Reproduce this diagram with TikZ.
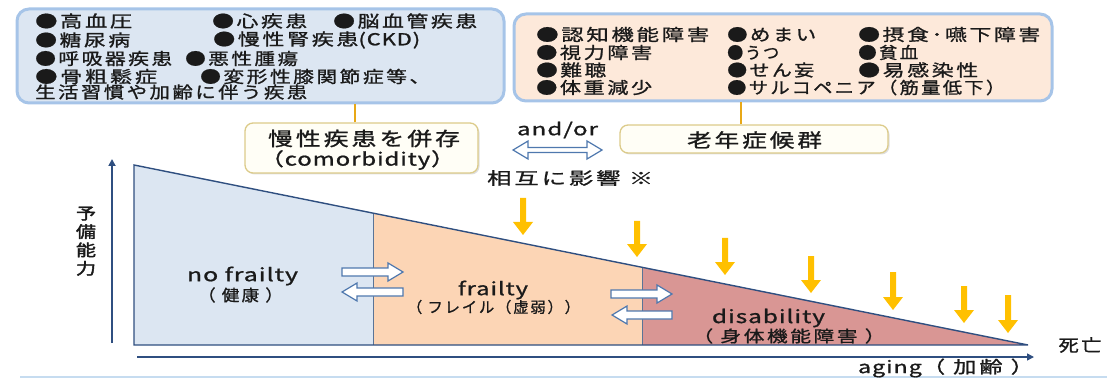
\documentclass[tikz,border=0pt]{standalone}
\usepackage{fontspec}
\usepackage{graphicx}
\usetikzlibrary{arrows.meta,shadows}
\setmainfont{Noto Sans CJK JP}
\newfontfamily\jp{Noto Sans CJK JP}[LetterSpace=12, FakeBold=1]
\newfontfamily\jpl{Noto Sans CJK JP}[LetterSpace=4, FakeBold=1]
\newfontfamily\jpbold{Noto Sans CJK JP}[FakeBold=2]
\newcommand{\fit}[2]{\resizebox{#1pt}{\height}{#2}}
\definecolor{glow}{HTML}{A6C4E8}
\definecolor{lfill}{HTML}{DCE6F2}
\definecolor{rfill}{HTML}{FDE9DA}
\definecolor{cream}{HTML}{FFFEF6}
\definecolor{tan}{HTML}{DCCB8A}
\definecolor{gold}{HTML}{E8A817}
\definecolor{yel}{HTML}{FFC000}
\definecolor{nofr}{HTML}{DCE6F2}
\definecolor{frc}{HTML}{FCD5B5}
\definecolor{disc}{HTML}{D99694}
\definecolor{navy}{HTML}{2F4F80}
\definecolor{edge}{HTML}{5A7497}
\definecolor{harr}{HTML}{4F78AE}
\definecolor{baseln}{HTML}{C6DCF0}
\definecolor{ink}{HTML}{1A1A1A}
\newcommand{\yarr}[3]{\fill[yel] ({#1-3},#2) -- ({#1+3},#2) -- ({#1+3},{#3-13}) -- ({#1+10},{#3-13}) -- (#1,#3) -- ({#1-10},{#3-13}) -- ({#1-3},{#3-13}) -- cycle;}
\newcommand{\harrR}[3]{\draw[hollowarr] (#1,{#3-4}) -- ({#2-15},{#3-4}) -- ({#2-15},{#3-9}) -- (#2,#3) -- ({#2-15},{#3+9}) -- ({#2-15},{#3+4}) -- (#1,{#3+4}) -- cycle;}
\newcommand{\harrL}[3]{\draw[hollowarr] (#1,{#3-4}) -- ({#2+15},{#3-4}) -- ({#2+15},{#3-9}) -- (#2,#3) -- ({#2+15},{#3+9}) -- ({#2+15},{#3+4}) -- (#1,{#3+4}) -- cycle;}
\begin{document}
\begin{tikzpicture}[x=1pt,y=-1pt,
  bigbox/.style={rounded corners=12pt, line width=3pt, draw=glow, inner sep=0pt},
  smallbox/.style={rounded corners=8pt, line width=1.3pt, draw=tan, fill=cream, inner sep=0pt,
     drop shadow={shadow xshift=1.5pt, shadow yshift=-1.5pt, opacity=0.25}},
  item/.style={anchor=west, inner sep=0pt, text=ink, font=\jp\fontsize{16.5}{18}\selectfont},
  lab/.style={inner sep=0pt, text=ink, font=\jp\fontsize{#1}{#1}\selectfont},
  lab/.default=17,
  latin/.style={inner sep=0pt, text=ink, font=\jpl\fontsize{#1}{#1}\selectfont},
  conn/.style={draw=gold, line width=2.5pt},
  hollowarr/.style={draw=harr, fill=white, line width=1.2pt, line join=miter},
  outline/.style={draw=navy, line width=1.4pt, line join=miter},
  divider/.style={draw=edge, line width=1pt},
  axis/.style={draw=navy, line width=1.8pt, -{Triangle[length=7pt,width=7pt]}}
]
\useasboundingbox (0,0) rectangle (1107,379);
% baseline
\draw[baseln, line width=2pt] (20,377) -- (1107,377);

% top boxes
\node[bigbox, fill=lfill, minimum width=487pt, minimum height=94pt] (boxL) at (260.5,56) {};
\node[bigbox, fill=rfill, minimum width=538pt, minimum height=87pt] (boxR) at (783,57.5) {};

% left box items
\node[item] (l1a) at (35,21) {\fit{97}{●高血圧}};
\node[item] (l1b) at (212,21) {\fit{95}{●心疾患}};
\node[item] (l1c) at (333,21) {\fit{144}{●脳血管疾患}};
\node[item] (l2a) at (35,40) {\fit{95}{●糖尿病}};
\node[item] (l2b) at (213,40) {\fit{207}{●慢性腎疾患\jpl(CKD)}};
\node[item] (l3a) at (35,58.5) {\fit{137}{●呼吸器疾患}};
\node[item] (l3b) at (185,58.5) {\fit{113}{●悪性腫瘍}};
\node[item] (l4a) at (35,76.5) {\fit{122}{●骨粗鬆症}};
\node[item] (l4b) at (200,76.5) {\fit{230}{●変形性膝関節症等、}};
\node[item] (l5) at (35,92) {\fit{272}{生活習慣や加齢に伴う疾患}};

% right box items
\node[item] (r1a) at (536,34.5) {\fit{173}{●認知機能障害}};
\node[item] (r1b) at (727,34.5) {\fit{89}{●めまい}};
\node[item] (r1c) at (858,34.5) {\fit{182}{●摂食･嚥下障害}};
\node[item] (r2a) at (536,52.5) {\fit{116}{●視力障害}};
\node[item] (r2b) at (727,52.5) {\fit{52}{●うつ}};
\node[item] (r2c) at (858,52.5) {\fit{60}{●貧血}};
\node[item] (r3a) at (536,70) {\fit{70}{●難聴}};
\node[item] (r3b) at (727,70) {\fit{87}{●せん妄}};
\node[item] (r3c) at (858,70) {\fit{120}{●易感染性}};
\node[item] (r4a) at (536,87.5) {\fit{116}{●体重減少}};
\node[item] (r4b) at (727,87.5) {\fit{278}{●サルコペニア（筋量低下）}};

% small boxes
\node[smallbox, minimum width=233pt, minimum height=50pt] (como) at (361.5,148) {};
\node[lab=19] (comoJ) at (364,138.5) {\fit{192}{慢性疾患を併存}};
\node[latin=18] (comoE) at (357.5,160) {\fit{195}{（comorbidity）}};
\node[smallbox, minimum width=268pt, minimum height=28pt] (rounen) at (754,139) {};
\node[lab=19] (rounenT) at (754.5,140) {\fit{135}{老年症候群}};

% connectors
\draw[conn] ([xshift=-6.5pt]como.north) -- ([xshift=-6.5pt]como.north |- boxL.south);
\draw[conn] ([xshift=-13pt]rounen.north) -- ([xshift=-13pt]rounen.north |- boxR.south);

% and/or
\node[latin=17] (andor) at (557.5,130) {\fit{81}{and/or}};
\draw[hollowarr] (513,150) -- (528,141) -- (528,147.5) -- (587,147.5) -- (587,141) -- (602,150) -- (587,159) -- (587,152.5) -- (528,152.5) -- (528,159) -- cycle;
\node[lab=17, anchor=west] (sogo) at (487,178) {\fit{166}{相互に影響 ※}};

% chart
\coordinate (TL) at (134,165);
\coordinate (BL) at (134,345);
\coordinate (D1t) at (373,213.1);
\coordinate (D1b) at (373,345);
\coordinate (D2t) at (642,267.3);
\coordinate (D2b) at (642,345);
\coordinate (AP) at (1028,345);
\fill[nofr] (TL) -- (D1t) -- (D1b) -- (BL) -- cycle;
\fill[frc] (D1t) -- (D2t) -- (D2b) -- (D1b) -- cycle;
\fill[disc] (D2t) -- (AP) -- (D2b) -- cycle;
\draw[divider] (D1t) -- (D1b);
\draw[divider] (D2t) -- (D2b);
\draw[outline] (AP) -- (TL) -- (BL) -- cycle;

% axes
\coordinate (yb) at (112,343);
\coordinate (yt) at (112,159);
\draw[axis] (yb) -- (yt);
\coordinate (xa) at (137,357);
\coordinate (xb) at (1034,357);
\draw[axis, line width=1.4pt] (xa) -- (xb);

% yellow arrows
\yarr{523}{198}{235}
\yarr{637}{221}{257}
\yarr{725}{238}{275}
\yarr{811}{256}{293}
\yarr{893}{272}{310}
\yarr{964}{286}{323}
\yarr{1008}{295}{333}

% hollow arrows
\harrR{342}{403}{272}
\harrL{403}{342}{292}
\harrR{611}{672}{294}
\harrL{672}{612}{315}

% chart labels
\node[latin=18] (nofrT) at (242.5,276) {\fit{111}{no frailty}};
\node[lab=16] (kenko) at (240.5,295) {\fit{85}{（ 健康 ）}};
\node[latin=18] (frT) at (493,290) {\fit{70}{frailty}};
\node[lab=15] (frJ) at (493.5,307) {\fit{173}{（ フレイル（虚弱））}};
\node[latin=18] (disT) at (768.5,318) {\fit{113}{disability}};
\node[lab=16] (disJ) at (789,336) {\fit{193}{（ 身体機能障害 ）}};
\node[latin=17] (aging) at (946,368) {\fit{176}{aging\jp（ 加齢 ）}};
\node[lab=17] (shibo) at (1080,345) {\fit{43}{死亡}};
\node[inner sep=0pt, text=ink, font=\jpbold\fontsize{16}{16.5}\selectfont] (yobi) at (86,243)
  {\scalebox{1.25}[1]{\begin{tabular}{@{}c@{}}予\\備\\能\\力\end{tabular}}};
\end{tikzpicture}
\end{document}
